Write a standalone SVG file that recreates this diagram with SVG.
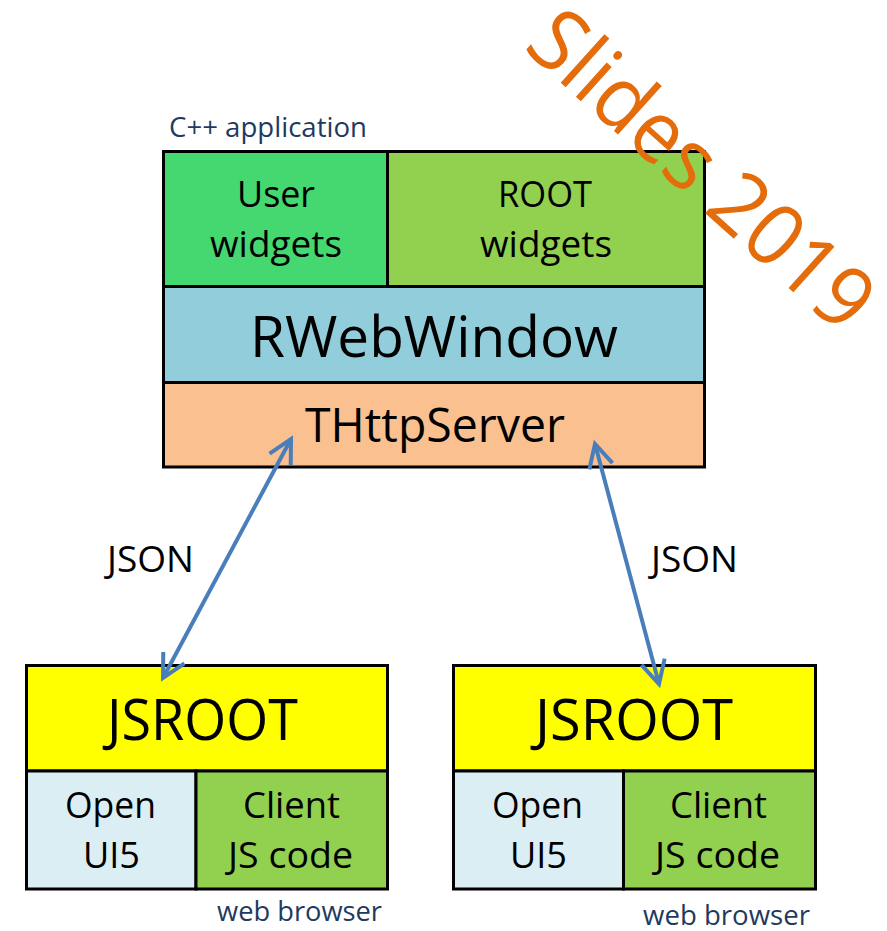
<svg xmlns="http://www.w3.org/2000/svg" width="887" height="931" viewBox="0 0 887 931">
<style>
text{font-family:"Open Sans","Noto Sans","Liberation Sans",sans-serif;fill:#000}
.box{stroke:#000;stroke-width:3}
.cap{fill:#1F3A60}
.conn{stroke:#4A7EBB;stroke-width:4;fill:none}
.wm{fill:#E46C0A}
</style>
<defs>
<marker id="head" markerUnits="userSpaceOnUse" markerWidth="40" markerHeight="40" refX="0" refY="0" viewBox="-30 -20 40 40" orient="auto-start-reverse">
<path d="M -23 -12 L 0 0 L -23 12" fill="none" stroke="#4A7EBB" stroke-width="4" stroke-linejoin="miter"/>
</marker>
</defs>
<rect width="887" height="931" fill="#fff"/>

<g id="cpp-app">
<text class="cap" x="169" y="137" font-size="27" textLength="198" lengthAdjust="spacingAndGlyphs">C++ application</text>
<g id="user-widgets">
<rect class="box" x="163.5" y="151.5" width="224" height="135" fill="#45D870"/>
<text x="237" y="207" font-size="37" textLength="78" lengthAdjust="spacingAndGlyphs">User</text>
<text x="210" y="257" font-size="37" textLength="132" lengthAdjust="spacingAndGlyphs">widgets</text>
</g>
<g id="root-widgets">
<rect class="box" x="387.5" y="151.5" width="317" height="135" fill="#92D050"/>
<text x="498" y="207" font-size="37" textLength="94" lengthAdjust="spacingAndGlyphs">ROOT</text>
<text x="480" y="257" font-size="37" textLength="132" lengthAdjust="spacingAndGlyphs">widgets</text>
</g>
<g id="rwebwindow">
<rect class="box" x="163.5" y="286.5" width="541" height="96" fill="#92CDDC"/>
<text x="250" y="357" font-size="56" textLength="368" lengthAdjust="spacingAndGlyphs">RWebWindow</text>
</g>
<g id="thttpserver">
<rect class="box" x="163.5" y="382.5" width="541" height="84.5" fill="#FAC090"/>
<text x="305" y="442" font-size="48" textLength="260" lengthAdjust="spacingAndGlyphs">THttpServer</text>
</g>
</g>

<g id="browser-left">
<g id="jsroot-left">
<rect class="box" x="26.5" y="665.5" width="361" height="105.5" fill="#FFFF00"/>
<text x="107" y="740" font-size="56" textLength="191" lengthAdjust="spacingAndGlyphs">JSROOT</text>
</g>
<g id="openui5-left">
<rect class="box" x="26.5" y="771" width="169.5" height="118" fill="#DBEEF4"/>
<text x="65" y="818" font-size="37" textLength="91" lengthAdjust="spacingAndGlyphs">Open</text>
<text x="83" y="868" font-size="37" textLength="57" lengthAdjust="spacingAndGlyphs">UI5</text>
</g>
<g id="client-left">
<rect class="box" x="196" y="771" width="191.5" height="118" fill="#92D050"/>
<text x="243" y="818" font-size="37" textLength="97" lengthAdjust="spacingAndGlyphs">Client</text>
<text x="228" y="868" font-size="37" textLength="125" lengthAdjust="spacingAndGlyphs">JS code</text>
</g>
<text class="cap" x="217" y="921" font-size="28" textLength="165" lengthAdjust="spacingAndGlyphs">web browser</text>
</g>

<g id="browser-right">
<g id="jsroot-right">
<rect class="box" x="453.5" y="665.5" width="362" height="105.5" fill="#FFFF00"/>
<text x="535" y="740" font-size="56" textLength="198" lengthAdjust="spacingAndGlyphs">JSROOT</text>
</g>
<g id="openui5-right">
<rect class="box" x="453.5" y="771" width="170" height="118" fill="#DBEEF4"/>
<text x="492" y="818" font-size="37" textLength="91" lengthAdjust="spacingAndGlyphs">Open</text>
<text x="510" y="868" font-size="37" textLength="57" lengthAdjust="spacingAndGlyphs">UI5</text>
</g>
<g id="client-right">
<rect class="box" x="623.5" y="771" width="192" height="118" fill="#92D050"/>
<text x="670" y="818" font-size="37" textLength="97" lengthAdjust="spacingAndGlyphs">Client</text>
<text x="655" y="868" font-size="37" textLength="125" lengthAdjust="spacingAndGlyphs">JS code</text>
</g>
<text class="cap" x="643" y="925" font-size="28" textLength="167" lengthAdjust="spacingAndGlyphs">web browser</text>
</g>

<g id="connectors">
<line class="conn" x1="291" y1="439" x2="163" y2="678" marker-start="url(#head)" marker-end="url(#head)"/>
<line class="conn" x1="595" y1="444" x2="659" y2="684" marker-start="url(#head)" marker-end="url(#head)"/>
<text x="107" y="572" font-size="36" textLength="87" lengthAdjust="spacingAndGlyphs">JSON</text>
<text x="651" y="572" font-size="36" textLength="87" lengthAdjust="spacingAndGlyphs">JSON</text>
</g>

<text class="wm" transform="translate(522 48) rotate(42)" font-size="86" textLength="430" lengthAdjust="spacingAndGlyphs">Slides 2019</text>
</svg>
